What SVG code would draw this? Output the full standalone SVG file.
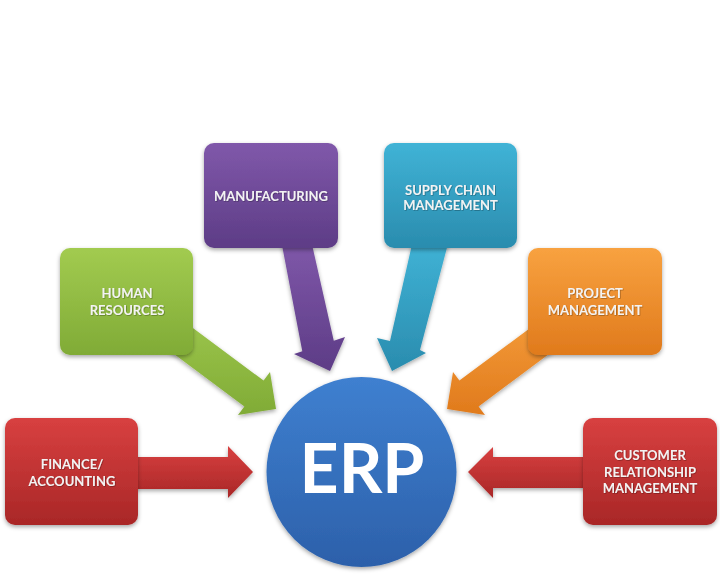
<svg xmlns="http://www.w3.org/2000/svg" width="720" height="587" viewBox="0 0 720 587">
  <defs>
    <linearGradient id="gRed" x1="0" y1="0" x2="0" y2="1">
      <stop offset="0" stop-color="#d84040"/>
      <stop offset="1" stop-color="#a92727"/>
    </linearGradient>
    <linearGradient id="gGreen" x1="0" y1="0" x2="0" y2="1">
      <stop offset="0" stop-color="#a2cb50"/>
      <stop offset="1" stop-color="#80ab36"/>
    </linearGradient>
    <linearGradient id="gPurple" x1="0" y1="0" x2="0" y2="1">
      <stop offset="0" stop-color="#8058aa"/>
      <stop offset="1" stop-color="#5d3c86"/>
    </linearGradient>
    <linearGradient id="gCyan" x1="0" y1="0" x2="0" y2="1">
      <stop offset="0" stop-color="#40b3d6"/>
      <stop offset="1" stop-color="#2a8cae"/>
    </linearGradient>
    <linearGradient id="gOrange" x1="0" y1="0" x2="0" y2="1">
      <stop offset="0" stop-color="#f8a240"/>
      <stop offset="1" stop-color="#e07a1c"/>
    </linearGradient>
    <linearGradient id="gBlue" x1="0" y1="0" x2="0" y2="1">
      <stop offset="0" stop-color="#3f80d0"/>
      <stop offset="1" stop-color="#2c60aa"/>
    </linearGradient>
    <filter id="shadow" x="-20%" y="-20%" width="140%" height="150%">
      <feDropShadow dx="0" dy="2" stdDeviation="2" flood-color="#000" flood-opacity="0.35"/>
    </filter>
    <filter id="tshadow" x="-10%" y="-30%" width="120%" height="160%">
      <feDropShadow dx="0.7" dy="0.7" stdDeviation="0.6" flood-color="#000" flood-opacity="0.35"/>
    </filter>
  </defs>
  <style>
    .box { filter: url(#shadow); }
    .lbl { font-family: Lato, "Liberation Sans", sans-serif; font-weight: bold; font-size: 13px; fill: #f3f3f3; text-anchor: middle; filter: url(#tshadow); }
    .erp { font-family: Lato, "Liberation Sans", sans-serif; font-weight: bold; font-size: 68px; fill: #ffffff; text-anchor: middle; }
    .arrow { filter: url(#shadow); }
  </style>
  <rect width="720" height="587" fill="#ffffff"/>

  <g id="connectors">
    <polygon class="arrow" fill="url(#gRed)" points="130,457 228,457 228,446 253,472 228,498 228,489 130,489"/>
    <polygon class="arrow" fill="url(#gRed)" points="590,457 493,457 493,447 468,472 493,498 493,488 590,488"/>
    <polygon class="arrow" fill="url(#gGreen)" points="151.3,297 263.6,380.6 270,372 276,409 238,415 244.4,406.4 132.1,322.8"/>
    <polygon class="arrow" fill="url(#gOrange)" points="571.7,297 459.4,380.6 453,372 447,409 485,415 478.6,406.4 590.9,322.8"/>
    <polygon class="arrow" fill="url(#gPurple)" points="281,240 311,240 333.8,340.7 345,337 330,371 294,354 302.3,351.2"/>
    <polygon class="arrow" fill="url(#gCyan)" points="413,240 449,240 420,350 426,353 392,371 377,338 390,341"/>
  </g>

  <g id="finance">
    <rect class="box" x="5" y="418" width="133" height="107" rx="10" fill="url(#gRed)"/>
    <text class="lbl" x="72" y="469">FINANCE/</text>
    <text class="lbl" x="72" y="486">ACCOUNTING</text>
  </g>
  <g id="hr">
    <rect class="box" x="60" y="248" width="133" height="107" rx="10" fill="url(#gGreen)"/>
    <text class="lbl" x="127" y="298">HUMAN</text>
    <text class="lbl" x="127" y="315">RESOURCES</text>
  </g>
  <g id="manufacturing">
    <rect class="box" x="204" y="143" width="134" height="105" rx="10" fill="url(#gPurple)"/>
    <text class="lbl" x="271" y="201">MANUFACTURING</text>
  </g>
  <g id="scm">
    <rect class="box" x="384" y="143" width="133" height="105" rx="10" fill="url(#gCyan)"/>
    <text class="lbl" x="450.5" y="195">SUPPLY CHAIN</text>
    <text class="lbl" x="450.5" y="210">MANAGEMENT</text>
  </g>
  <g id="pm">
    <rect class="box" x="528" y="248" width="134" height="107" rx="10" fill="url(#gOrange)"/>
    <text class="lbl" x="595" y="298">PROJECT</text>
    <text class="lbl" x="595" y="315">MANAGEMENT</text>
  </g>
  <g id="crm">
    <rect class="box" x="583" y="418" width="134" height="107" rx="10" fill="url(#gRed)"/>
    <text class="lbl" x="650" y="460">CUSTOMER</text>
    <text class="lbl" x="650" y="477">RELATIONSHIP</text>
    <text class="lbl" x="650" y="493">MANAGEMENT</text>
  </g>
  <g id="erp">
    <circle class="box" cx="361.5" cy="472" r="95" fill="url(#gBlue)"/>
    <text class="erp" x="362" y="493">ERP</text>
  </g>
</svg>
